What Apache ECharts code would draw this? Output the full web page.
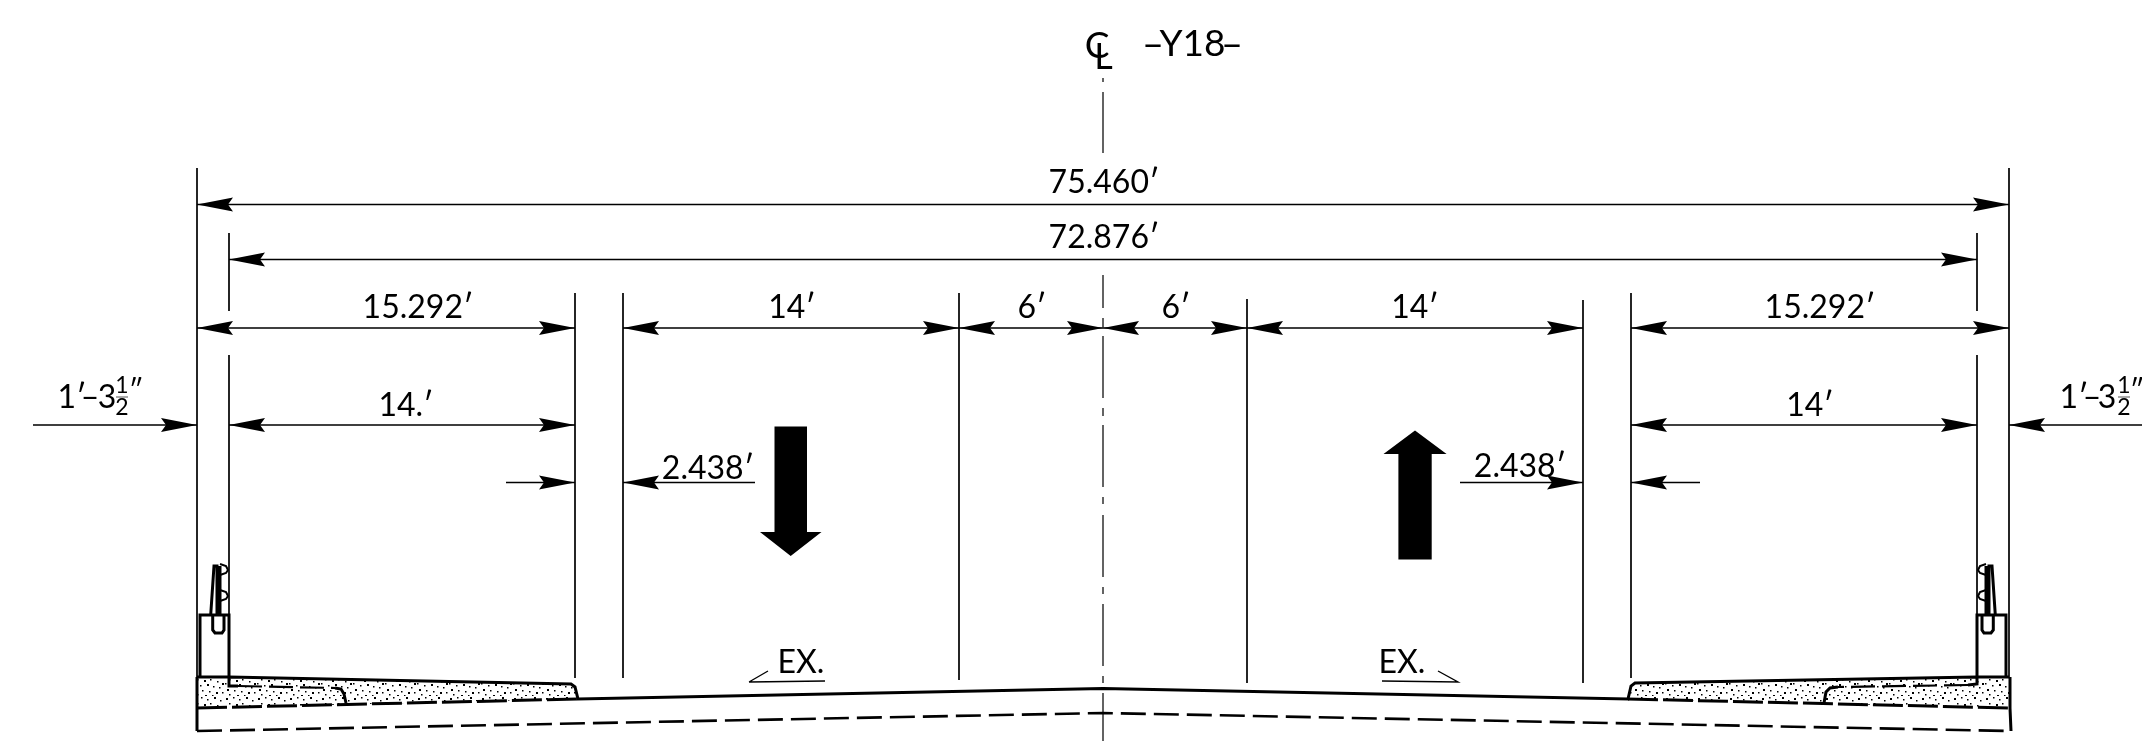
<!DOCTYPE html>
<html><head><meta charset="utf-8">
<style>html,body{margin:0;padding:0;background:#fff}#c{width:2142px;height:741px}</style>
<script src="https://cdn.jsdelivr.net/npm/echarts@6/dist/echarts.min.js"></script>
</head><body><div id="c"></div>
<script>
// All values are sheet units (x right, y down).
const extensionLines = [
  [197,168,677],[229,233,311],[229,355,677],[575,293,678],[623,293,678],[959,293,680],
  [1247,299,683],[1583,300,683],[1631,293,678],[1977,233,311],[1977,355,677],[2009,168,677]
];
const centerlineSegments = [[78,82],[92,153],[275,308],[318,328],[336,398],[408,416],[425,487],[497,504],[515,577],[587,594],[604,666],[676,683],[693,741]];
const dimensionLines = [
  [197,2009,204.5],[229,1977,259.5],
  [197,575,328],[623,959,328],[959,1103,328],[1103,1247,328],[1247,1583,328],[1631,2009,328],
  [33,197,425],[229,575,425],[1631,1977,425],[2009,2142,425],
  [506,575,482.5],[623,755,482.5],[1460,1583,482.5],[1631,1700,482.5]
];
// tip x, tip y, direction the arrow points (-1 left, +1 right)
const arrowTips = [
  [197,204.5,-1],[2009,204.5,1],[229,259.5,-1],[1977,259.5,1],
  [197,328,-1],[575,328,1],[623,328,-1],[959,328,1],[959,328,-1],[1103,328,1],[1103,328,-1],[1247,328,1],
  [1247,328,-1],[1583,328,1],[1631,328,-1],[2009,328,1],
  [197,425,1],[229,425,-1],[575,425,1],[1631,425,-1],[1977,425,1],[2009,425,-1],
  [575,482.5,1],[623,482.5,-1],[1583,482.5,1],[1631,482.5,-1]
];
const trafficArrowDown = [[774.5,426.5],[807,426.5],[807,532],[821.5,532],[790.7,556],[760,532],[774.5,532]];
const trafficArrowUp = [[1415,430.5],[1446.6,454],[1431.7,454],[1431.7,559.5],[1398.4,559.5],[1398.4,454],[1383.5,454]];
const deckLeft = [[197,677],[229,677],[571,684],[575,687],[578,699],[197,708]];
const deckRight = [[2009,677],[1977,677],[1635,683],[1631,686],[1628,699],[2009,708]];
const pavementSolid = [
  [197,677],[229,677],[571,684],[575,687],[578,699],[1103,688.5],[1628,699],[1631,686],[1635,683],[1977,677],[2009,677],null,
  [197,677],[197,708],[197,731],null,[2010,677],[2010,708],[2011,731],null,
  [229,677],[229,686],[238,686],null,[1977,677],[1977,684],[1968,685],null,
  [335,688],[341,689],[344,694],[346,703],null,[1838,687],[1830,688],[1826,692],[1824,703]
];
const pavementDashUpper = [[197,708],[578,699],null,[1628,699],[2010,708]];
const pavementDashLower = [[197,731],[1103,713],[2011,731]];
const jointDashes = [[238,686],[335,688],null,[1968,685],[1838,687]];
const railLines = [
  [200,676],[200,615],[229,615],[229,676],null,
  [210.7,615],[214,566],[217,566],[217,615],null,
  [220,566],[220,615],null,
  [212.7,616],[212.7,630],[215,633],[222,633],[224,630],[224,616],null,
  [2006,676],[2006,615],[1977,615],[1977,676],null,
  [1995.3,615],[1992,566],[1989,566],[1989,615],null,
  [1986,566],[1986,615],null,
  [1993.3,616],[1993.3,630],[1991,633],[1984,633],[1982,630],[1982,616]
];
const railEars = [
  [220,564],[226,566],[228,570],[226,573],[220,575],null,
  [220,590],[226,592],[228,596],[226,599],[220,601],null,
  [1986,564],[1980,566],[1978,570],[1980,573],[1986,575],null,
  [1986,590],[1980,592],[1978,596],[1980,599],[1986,601]
];
const leaderLines = [
  [749,682],[768,671],null,[749,682],[825,681],null,
  [1382,681],[1458,682],[1438,671]
];
const fractionBars = [[116,397],[128,397],null,[2118,397],[2130,397]];
const labels = [
  ['75.460\u2032',1104,183,32],['72.876\u2032',1104,238,32],
  ['15.292\u2032',418,308,32],['14\u2032',792,308,32],['6\u2032',1032,308,32],['6\u2032',1176,308,32],
  ['14\u2032',1415,308,32],['15.292\u2032',1820,308,32],['14.\u2032',406,406,32],['14\u2032',1810,406,32],
  ['2.438\u2032',708,469,32],['2.438\u2032',1520,467,32],
  ['EX.',801,663,32],['EX.',1402,663,32],
  ['1\u2032',72,398,32],['\u2013',90,398,32],['3',107,398,32],['1',122,386,23],['2',122,408,23],['\u2033',136,391,28],
  ['1\u2032',2074,398,32],['\u2013',2092,398,32],['3',2107,398,32],['1',2124,386,23],['2',2124,408,23],['\u2033',2137,391,28],
  ['C',1097,46,37],['L',1103.5,57,36],['\u2013',1153,45,38],['Y18',1192.5,44,37],['\u2013',1232,45,38]
];

function flat(rows){const out=[];rows.forEach(r=>{out.push(r?r:[null,null]);});return out;}
const segs=[];
extensionLines.forEach(e=>{segs.push([e[0],e[1]],[e[0],e[2]],null);});
dimensionLines.forEach(d=>{segs.push([d[0],d[2]],[d[1],d[2]],null);});
const cl=[];
centerlineSegments.forEach(s=>{cl.push([1103,s[0]],[1103,s[1]],null);});

// stipple tile for the concrete fill
const stippleDots=[[2,2],[9,1],[15,3],[22,1],[28,4],[5,7],[12,8],[18,7],[25,9],[30,11],[1,11],[8,13],[15,12],[21,14],[27,15],[3,17],[10,18],[17,19],[24,20],[30,20],[5,22],[13,23],[20,23]];
const tile=document.createElement('canvas');tile.width=32;tile.height=24;
const tc=tile.getContext('2d');tc.fillStyle='#000';
stippleDots.forEach((p,i)=>{const s=i%3===0?2:1.5;tc.fillRect(p[0],p[1],s,s);});

const ink='#000';
function line(data,w,color,dash){
  return {type:'line',data:flat(data),symbol:'none',silent:true,connectNulls:false,animation:false,z:3,
    lineStyle:{width:w,color:color,type:dash||'solid',cap:'butt',join:'miter'}};
}
function poly(points,style,z){
  return {type:'custom',silent:true,animation:false,z:z||2,coordinateSystem:'cartesian2d',data:[0],
    renderItem:(p,api)=>({type:'polygon',shape:{points:points.map(q=>api.coord(q))},style:style})};
}
const option={
  animation:false,
  backgroundColor:'#fff',
  grid:{left:0,right:0,top:0,bottom:0},
  xAxis:{type:'value',min:0,max:2142,show:false},
  yAxis:{type:'value',min:0,max:741,inverse:true,show:false},
  series:[
    poly(deckLeft,{fill:{image:tile,repeat:'repeat'}},1),
    poly(deckRight,{fill:{image:tile,repeat:'repeat'}},1),
    line(segs,1.7,ink),
    line(cl,1.4,'#222'),
    line(pavementSolid,3,ink),
    line(pavementDashUpper,3,ink,[30,5]),
    line(pavementDashLower,2.6,ink,[25,8]),
    line(jointDashes,2.2,ink,[24,7]),
    line(railLines,3,ink),
    line(railEars,2,ink),
    line(leaderLines,1.4,ink),
    line(fractionBars,1,'#555'),
    poly(trafficArrowDown,{fill:ink},4),
    poly(trafficArrowUp,{fill:ink},4),
    {type:'custom',silent:true,animation:false,z:5,coordinateSystem:'cartesian2d',data:arrowTips,
      encode:{x:0,y:1},
      renderItem:(p,api)=>{
        const t=api.coord([api.value(0),api.value(1)]),d=api.value(2);
        const s=-d;
        return {type:'polygon',shape:{points:[t,[t[0]+s*36,t[1]-7],[t[0]+s*31,t[1]],[t[0]+s*36,t[1]+7]]},style:{fill:ink}};
      }},
    {type:'custom',silent:true,animation:false,z:6,coordinateSystem:'cartesian2d',
      data:labels.map(l=>[l[1],l[2]]),
      encode:{x:0,y:1},
      renderItem:(p,api)=>{
        const i=p.dataIndex,c=api.coord([labels[i][1],labels[i][2]]);
        return {type:'text',x:c[0],y:c[1],style:{text:labels[i][0],fill:ink,
          font:labels[i][3]+'px Lato, "Open Sans", sans-serif',align:'center',verticalAlign:'middle'}};
      }}
  ]
};
const chart=echarts.init(document.getElementById('c'),null,{renderer:'canvas'});
chart.setOption(option);
</script></body></html>
